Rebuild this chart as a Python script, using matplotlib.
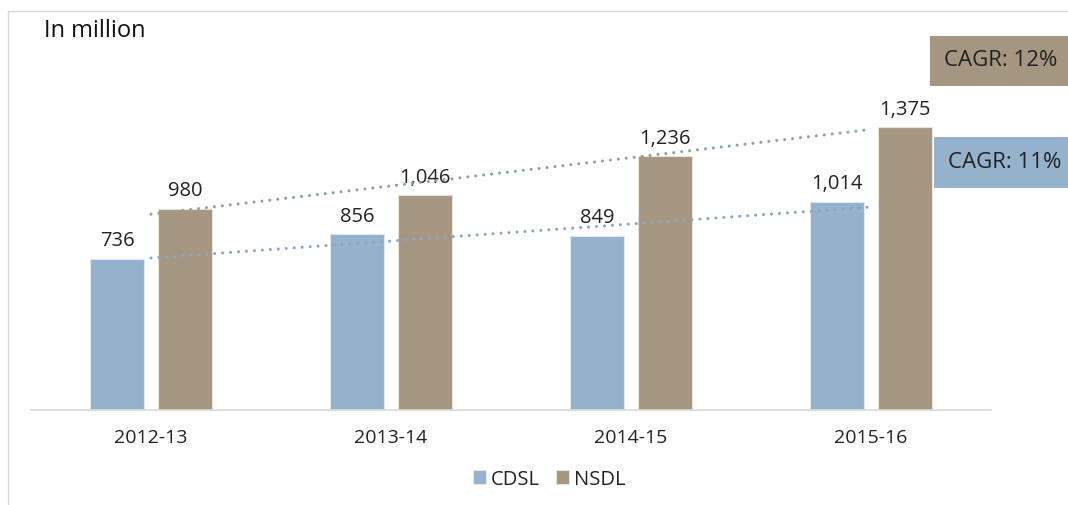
import matplotlib
matplotlib.use("Agg")
import matplotlib.pyplot as plt
import numpy as np

categories = ["2012-13", "2013-14", "2014-15", "2015-16"]
cdsl = [736, 856, 849, 1014]
nsdl = [980, 1046, 1236, 1375]
series_names = ["CDSL", "NSDL"]
cagr_labels = ["CAGR: 11%", "CAGR: 12%"]

c_cdsl = "#95b2cd"
c_nsdl = "#a59682"
c_tr_cdsl = "#87a5c4"
c_tr_nsdl = "#86a697"

plt.rcParams['font.family'] = ['Open Sans', 'DejaVu Sans']

fig = plt.figure(figsize=(10.68, 5.06), dpi=100)
W, H = 1068, 506
ax = fig.add_axes([31 / W, (506 - 411) / H, 960 / W, 399 / H])

x = np.arange(len(categories))
bw = 0.225
off = 0.1417
b1 = ax.bar(x - off, cdsl, bw, color=c_cdsl, edgecolor="#dfe6ee", linewidth=0.8, label=series_names[0], zorder=2)
b2 = ax.bar(x + off, nsdl, bw, color=c_nsdl, edgecolor="#e6e0d8", linewidth=0.8, label=series_names[1], zorder=2)

for rects, vals in ((b1, cdsl), (b2, nsdl)):
    for r, v in zip(rects, vals):
        ax.annotate(f"{v:,}", (r.get_x() + r.get_width() / 2, v), xytext=(0, 6),
                    textcoords="offset points", ha="center", va="bottom",
                    fontsize=14.5, color="#222222")

# linear trendlines
xt = np.array([x[0], x[-1]])
for vals, col in ((cdsl, c_tr_cdsl), (nsdl, c_tr_nsdl)):
    k, b = np.polyfit(x, vals, 1)
    ax.plot(xt, k * xt + b, linestyle=(0, (0.01, 2.6)), color=col, linewidth=2.2, zorder=3,
            dash_capstyle="round", solid_capstyle="round")

ax.set_xlim(-0.5, 3.5)
ax.set_ylim(0, 399 / 0.2055)
ax.set_xticks(x)
ax.set_xticklabels(categories, fontsize=14, color="#222222")
ax.tick_params(axis="x", length=0, pad=13)
ax.set_yticks([])
for s in ("top", "right", "left"):
    ax.spines[s].set_visible(False)
ax.spines["bottom"].set_color("#d9d9d9")
ax.spines["bottom"].set_linewidth(1.2)

leg = fig.legend(handles=[b1, b2], labels=series_names, loc="center", bbox_to_anchor=(549 / W, 1 - 480 / H),
                 ncol=2, frameon=False, fontsize=14.5, handlelength=0.65, handleheight=0.65,
                 handletextpad=0.25, columnspacing=0.8, labelcolor="#222222")

fig.text(44 / W, 1 - 31 / H, "In million", fontsize=17, color="#111111", va="center", ha="left")

# CAGR boxes
fig.patches.append(plt.Rectangle((930 / W, 1 - 87 / H), 140 / W, 50 / H, transform=fig.transFigure,
                                 facecolor=c_nsdl, edgecolor="none"))
fig.text(1001 / W, 1 - 61 / H, cagr_labels[1], fontsize=16, color="#222222", ha="center", va="center")
fig.patches.append(plt.Rectangle((934 / W, 1 - 189 / H), 136 / W, 51 / H, transform=fig.transFigure,
                                 facecolor=c_cdsl, edgecolor="none"))
fig.text(1005 / W, 1 - 163 / H, cagr_labels[0], fontsize=16, color="#222222", ha="center", va="center")

# frame lines
fig.add_artist(plt.Line2D([8 / W, 1], [1 - 12 / H, 1 - 12 / H], color="#d9d9d9", linewidth=1.0, transform=fig.transFigure))
fig.add_artist(plt.Line2D([8 / W, 8 / W], [0, 1 - 12 / H], color="#d9d9d9", linewidth=1.0, transform=fig.transFigure))

fig.savefig("out.png", dpi=100, facecolor="white")
